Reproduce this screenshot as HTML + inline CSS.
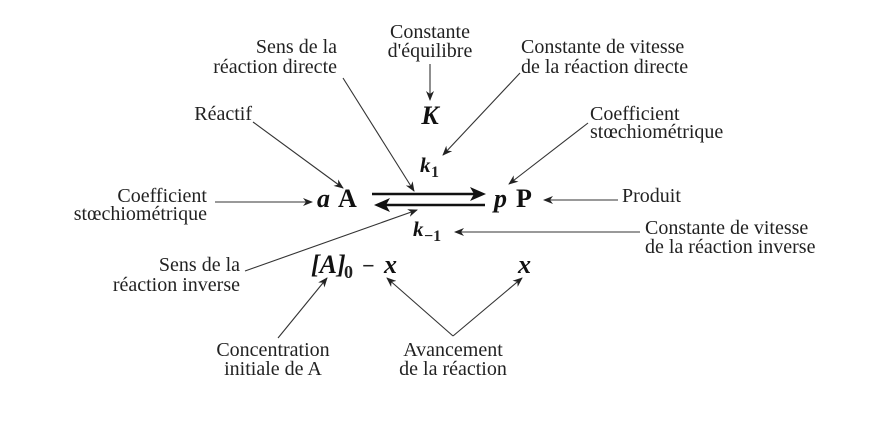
<!DOCTYPE html>
<html><head><meta charset="utf-8"><style>
html,body{margin:0;padding:0;background:#fff;}
svg{display:block;}
text{font-family:"Liberation Serif",serif;font-size:20px;fill:#222;}
.m{font-weight:bold;font-style:italic;font-size:26px;fill:#111;}
.b{font-weight:bold;font-size:26px;fill:#111;}
</style></head><body>
<svg width="878" height="423" viewBox="0 0 878 423" xmlns="http://www.w3.org/2000/svg">
<defs>
<marker id="ah" markerWidth="10" markerHeight="8" refX="9" refY="4" orient="auto" markerUnits="userSpaceOnUse">
<path d="M0,0 L10,4 L0,8 L3,4 Z" fill="#222"/></marker>
</defs>
<g stroke="#333" stroke-width="1.1" fill="none" marker-end="url(#ah)">
<line x1="253" y1="122" x2="343" y2="188"/>
<line x1="343" y1="78" x2="414" y2="191"/>
<line x1="430" y1="64" x2="430" y2="100"/>
<line x1="520" y1="73" x2="443" y2="155"/>
<line x1="588" y1="123" x2="509" y2="184"/>
<line x1="215" y1="202" x2="312" y2="202"/>
<line x1="618" y1="200" x2="544" y2="200"/>
<line x1="640" y1="232" x2="455" y2="232"/>
<line x1="245" y1="271" x2="417" y2="210"/>
<line x1="278" y1="338" x2="327" y2="278"/>
<line x1="453" y1="336" x2="387" y2="278"/>
<line x1="453" y1="336" x2="522" y2="278"/>
</g>
<line x1="372" y1="194" x2="478" y2="194" stroke="#111" stroke-width="2.5"/>
<path d="M486,194 L470,187 L474,194 L470,201 Z" fill="#111"/>
<line x1="382" y1="205" x2="485" y2="205" stroke="#111" stroke-width="2.5"/>
<path d="M374,205 L390,198 L386,205 L390,212 Z" fill="#111"/>

<text x="430" y="38" text-anchor="middle">Constante</text>
<text x="430" y="57" text-anchor="middle">d'équilibre</text>
<text x="430" y="124" class="m" text-anchor="middle">K</text>
<text x="337" y="53" text-anchor="end">Sens de la</text>
<text x="337" y="73" text-anchor="end">réaction directe</text>
<text x="521" y="53">Constante de vitesse</text>
<text x="521" y="73">de la réaction directe</text>
<text x="252" y="120" text-anchor="end">Réactif</text>
<text x="590" y="120">Coefficient</text>
<text x="590" y="138">stœchiométrique</text>
<text x="207" y="202" text-anchor="end">Coefficient</text>
<text x="207" y="220" text-anchor="end">stœchiométrique</text>
<text x="622" y="202">Produit</text>
<text x="645" y="234">Constante de vitesse</text>
<text x="645" y="253">de la réaction inverse</text>
<text x="240" y="271" text-anchor="end">Sens de la</text>
<text x="240" y="291" text-anchor="end">réaction inverse</text>
<text x="273" y="356" text-anchor="middle">Concentration</text>
<text x="273" y="375" text-anchor="middle">initiale de A</text>
<text x="453" y="356" text-anchor="middle">Avancement</text>
<text x="453" y="375" text-anchor="middle">de la réaction</text>

<text x="317" y="207" class="m">a</text><text x="338" y="207" class="b">A</text>
<text x="494" y="207" class="m">p</text><text x="516" y="207" class="b">P</text>
<text x="420" y="172" class="m" style="font-size:21px">k</text><text x="431" y="177" style="font-size:16px;font-weight:bold">1</text>
<text x="413" y="236" class="m" style="font-size:21px">k</text><text x="424" y="241" style="font-size:16px;font-weight:bold">−1</text>
<text x="311" y="273" class="m">[A]</text><text x="344" y="278" style="font-size:18px;font-weight:bold">0</text><text x="362" y="273" style="font-size:22px;font-weight:bold">−</text><text x="384" y="273" class="m">x</text>
<text x="518" y="273" class="m">x</text>
</svg>
</body></html>
